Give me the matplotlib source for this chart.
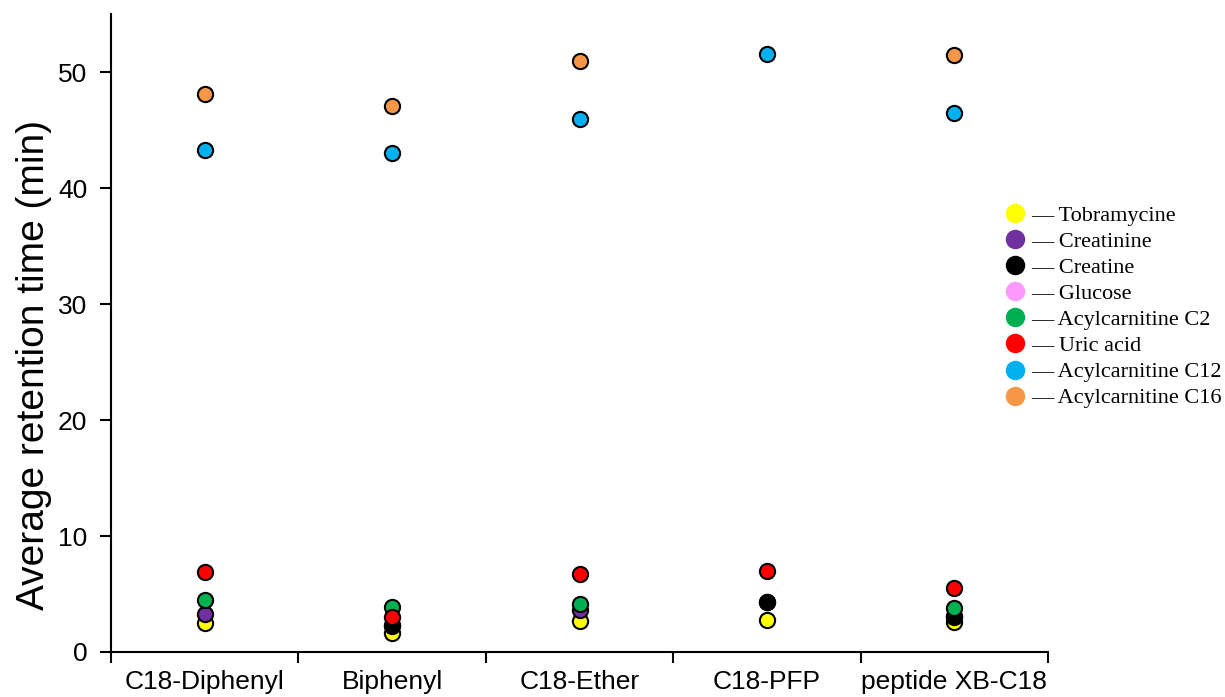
import matplotlib.pyplot as plt
import numpy as np
from matplotlib.lines import Line2D

# ---------------- DADOS ----------------
colunas = ["C18-Diphenyl", "Biphenyl", "C18-Ether", "C18-PFP", "peptide XB-C18"]

compostos = ["Tobramycine", "Creatinine", "Creatine", "Glucose",
             "Acylcarnitine C2", "Uric acid", "Acylcarnitine C12", "Acylcarnitine C16"]
cores = ["#ffff00", "#7030a0", "#000000", "#ff99ff",
         "#00b050", "#ff0000", "#00b0f0", "#f79646"]

tobramycine = [2.5, 1.6, 2.7, 2.8, 2.6]
creatinine = [3.3, 2.3, 3.6, 4.3, 3.0]
creatine = [np.nan, 2.2, np.nan, 4.3, 3.1]
glucose = [np.nan, np.nan, np.nan, np.nan, np.nan]
acyl_c2 = [4.5, 3.9, 4.1, np.nan, 3.8]
uric_acid = [6.9, 3.0, 6.7, 7.0, 5.5]
acyl_c12 = [43.3, 43.0, 46.0, 51.6, 46.5]
acyl_c16 = [48.1, 47.1, 51.0, np.nan, 51.5]

series = [tobramycine, creatinine, creatine, glucose,
          acyl_c2, uric_acid, acyl_c12, acyl_c16]

# ---------------- PLOT ----------------
fig = plt.figure(figsize=(12.25, 6.97), dpi=100)
ax = fig.add_axes([0.0906, 0.0646, 0.765, 0.915])

pos = np.arange(len(colunas)) + 0.5
for i, (vals, cor) in enumerate(zip(series, cores)):
    ax.scatter(pos, vals, s=120, color=cor, edgecolor='black',
               linewidth=1.5, zorder=3 + i, clip_on=False)

ax.set_xlim(0, len(colunas))
ax.set_ylim(0, 55)

# ticks nas fronteiras, rótulos no centro
ax.set_xticks(np.arange(len(colunas) + 1))
ax.set_xticklabels([])
ax.set_xticks(pos, minor=True)
ax.set_xticklabels(colunas, minor=True, fontsize=19, family='Liberation Sans')
ax.tick_params(axis='x', which='minor', length=0, pad=13)
ax.tick_params(axis='x', which='major', length=8, width=1.5, direction='out')

ax.set_yticks(np.arange(0, 51, 10))
ax.tick_params(axis='y', length=8, width=1.5, direction='out', labelsize=19, pad=9)
for t in ax.get_yticklabels():
    t.set_family('Liberation Sans')

ax.set_ylabel("Average retention time (min)", fontsize=28, family='Liberation Sans')
ax.yaxis.set_label_coords(-0.063, 0.45)

for s in ['top', 'right']:
    ax.spines[s].set_visible(False)
for s in ['left', 'bottom']:
    ax.spines[s].set_linewidth(1.5)

# legenda
handles = [Line2D([], [], marker='o', linestyle='none', markersize=13,
                  markerfacecolor=c, markeredgecolor=c) for c in cores]
labels = ["\u2014 " + n for n in compostos]
fig.legend(handles, labels, loc='upper left', bbox_to_anchor=(0.807, 0.728),
           frameon=False, handlelength=1.0, handletextpad=0.2,
           labelspacing=0.25, borderpad=0.2,
           prop={'family': 'Liberation Serif', 'size': 16})

fig.savefig("out.png", dpi=100)
